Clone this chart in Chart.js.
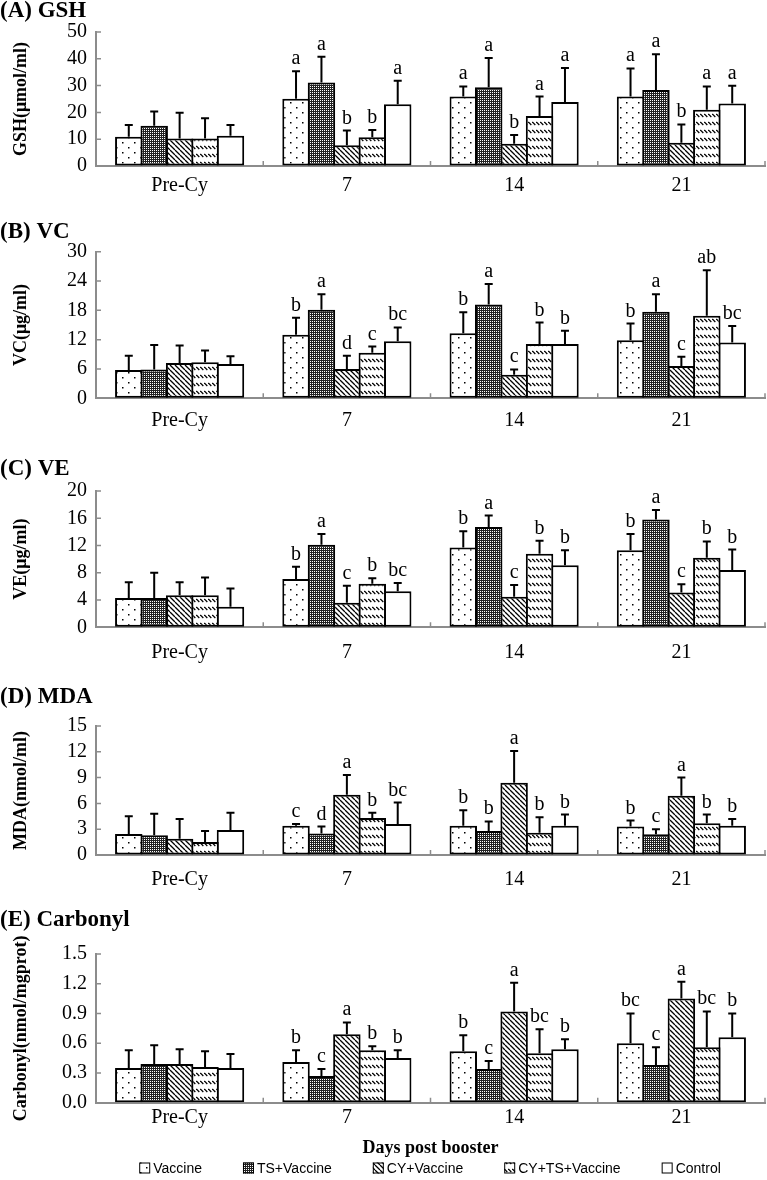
<!DOCTYPE html>
<html>
<head>
<meta charset="utf-8">
<script src="https://cdn.jsdelivr.net/npm/chart.js@4.4.1/dist/chart.umd.min.js"></script>
<style>
  html, body { margin: 0; padding: 0; background: #fff; }
  #page { position: relative; width: 767px; height: 1180px; overflow: hidden; }
  canvas { position: absolute; left: 0; }
</style>
</head>
<body>
<div id="page">
  <canvas id="gsh" width="767" height="205" style="top:0px"></canvas>
  <canvas id="vc" width="767" height="232" style="top:205px"></canvas>
  <canvas id="ve" width="767" height="228" style="top:437px"></canvas>
  <canvas id="mda" width="767" height="230" style="top:665px"></canvas>
  <canvas id="carbonyl" width="767" height="285" style="top:895px"></canvas>
</div>
<script>
const categories = ['Pre-Cy', '7', '14', '21'];
const groups = ['Vaccine', 'TS+Vaccine', 'CY+Vaccine', 'CY+TS+Vaccine', 'Control'];

// rows = groups, columns = categories
const gshTicks = [0, 10, 20, 30, 40, 50];
const gshMean = [
    [10.9, 25.1, 25.9, 25.9],
    [15.0, 31.2, 29.4, 28.4],
    [10.3, 7.7, 8.3, 8.7],
    [10.3, 10.7, 18.7, 21.0],
    [11.3, 23.0, 23.9, 23.3]
];
const gshSd = [
    [4.4, 10.3, 3.8, 10.5],
    [5.3, 9.6, 10.9, 13.3],
    [9.6, 5.5, 3.3, 6.8],
    [7.5, 2.7, 7.2, 8.7],
    [4.0, 8.8, 12.7, 6.6]
];
const gshLetters = [
    ['', 'a', 'a', 'a'],
    ['', 'a', 'a', 'a'],
    ['', 'b', 'b', 'b'],
    ['', 'b', 'a', 'a'],
    ['', 'a', 'a', 'a']
];

const vcTicks = [0, 6, 12, 18, 24, 30];
const vcMean = [
    [5.8, 13.0, 13.3, 11.9],
    [5.9, 18.1, 19.2, 17.7],
    [7.2, 6.0, 4.8, 6.6],
    [7.4, 9.3, 11.1, 16.9],
    [7.0, 11.7, 11.1, 11.4]
];
const vcSd = [
    [2.9, 3.5, 4.3, 3.4],
    [5.0, 3.2, 4.2, 3.6],
    [3.6, 2.7, 1.1, 1.9],
    [2.4, 1.3, 4.4, 9.3],
    [1.6, 2.8, 2.7, 3.4]
];
const vcLetters = [
    ['', 'b', 'b', 'b'],
    ['', 'a', 'a', 'a'],
    ['', 'd', 'c', 'c'],
    ['', 'c', 'b', 'ab'],
    ['', 'bc', 'b', 'bc']
];

const veTicks = [0, 4, 8, 12, 16, 20];
const veMean = [
    [4.3, 7.1, 11.7, 11.3],
    [4.3, 12.1, 14.7, 15.8],
    [4.7, 3.6, 4.5, 5.1],
    [4.7, 6.4, 10.8, 10.2],
    [3.0, 5.3, 9.1, 8.4]
];
const veSd = [
    [2.3, 1.8, 2.4, 2.4],
    [3.7, 1.6, 1.7, 1.4],
    [1.9, 2.5, 1.7, 1.2],
    [2.6, 0.8, 1.9, 2.4],
    [2.7, 1.2, 2.2, 3.0]
];
const veLetters = [
    ['', 'b', 'b', 'b'],
    ['', 'a', 'a', 'a'],
    ['', 'c', 'c', 'c'],
    ['', 'b', 'b', 'b'],
    ['', 'bc', 'b', 'b']
];

const mdaTicks = [0, 3, 6, 9, 12, 15];
const mdaMean = [
    [2.45, 3.4, 3.4, 3.3],
    [2.3, 2.5, 2.8, 2.4],
    [1.9, 7.0, 8.4, 6.9],
    [1.5, 4.3, 2.6, 3.7],
    [2.9, 3.6, 3.4, 3.4]
];
const mdaSd = [
    [2.05, 0.2, 1.8, 0.7],
    [2.5, 0.8, 1.1, 0.6],
    [2.3, 2.3, 3.7, 2.1],
    [1.3, 0.6, 1.8, 1.0],
    [2.0, 2.5, 1.3, 0.8]
];
const mdaLetters = [
    ['', 'c', 'b', 'b'],
    ['', 'd', 'b', 'c'],
    ['', 'a', 'a', 'a'],
    ['', 'b', 'b', 'b'],
    ['', 'bc', 'b', 'b']
];

const carbTicks = [0, 0.3, 0.6, 0.9, 1.2, 1.5];
const carbMean = [
    [0.35, 0.41, 0.52, 0.60],
    [0.39, 0.27, 0.34, 0.38],
    [0.39, 0.69, 0.92, 1.05],
    [0.36, 0.53, 0.50, 0.56],
    [0.35, 0.45, 0.54, 0.66]
];
const carbSd = [
    [0.18, 0.12, 0.16, 0.30],
    [0.19, 0.07, 0.08, 0.18],
    [0.15, 0.12, 0.29, 0.17],
    [0.16, 0.04, 0.24, 0.36],
    [0.14, 0.08, 0.10, 0.24]
];
const carbLetters = [
    ['', 'b', 'b', 'bc'],
    ['', 'c', 'c', 'c'],
    ['', 'a', 'a', 'a'],
    ['', 'b', 'bc', 'bc'],
    ['', 'b', 'b', 'b']
];

const SERIF = "'Liberation Serif', 'Times New Roman', serif";
const AXIS_GREY = '#8c8c8c';

// hatch fills for the five groups
function makeFill(kind) {
    const c = document.createElement('canvas');
    const g = c.getContext('2d');
    if (kind === 'dots') {
        c.width = 12; c.height = 10;
        g.fillStyle = '#fff'; g.fillRect(0, 0, 12, 10);
        g.fillStyle = '#000';
        g.fillRect(2, 2, 1.5, 1.5);
        g.fillRect(8, 7, 1.5, 1.5);
    } else if (kind === 'checker') {
        c.width = 2; c.height = 2;
        g.fillStyle = '#222'; g.fillRect(0, 0, 2, 2);
        g.fillStyle = '#fff'; g.fillRect(0, 0, 1, 1);
    } else if (kind === 'diag') {
        c.width = 5; c.height = 5;
        g.fillStyle = '#fff'; g.fillRect(0, 0, 5, 5);
        g.strokeStyle = '#000'; g.lineWidth = 1.3;
        g.beginPath();
        [-5, 0, 5].forEach(o => { g.moveTo(o, 0); g.lineTo(o + 5, 5); });
        g.stroke();
    } else if (kind === 'dash') {
        c.width = 4; c.height = 8;
        g.fillStyle = '#fff'; g.fillRect(0, 0, 4, 8);
        g.strokeStyle = '#000'; g.lineWidth = 1.2;
        g.beginPath(); g.moveTo(0.3, 2); g.lineTo(3.3, 5); g.stroke();
    } else {
        return '#fff';
    }
    return g.createPattern(c, 'repeat');
}
const fills = ['dots', 'checker', 'diag', 'dash', 'plain'].map(makeFill);

const errorBars = {
    id: 'errorBars',
    afterDatasetsDraw(chart) {
        const ctx = chart.ctx;
        const y = chart.scales.y;
        chart.data.datasets.forEach((ds, i) => {
            chart.getDatasetMeta(i).data.forEach((bar, j) => {
                const yTop = y.getPixelForValue(ds.data[j] + ds.sd[j]);
                ctx.save();
                ctx.strokeStyle = '#000';
                ctx.lineWidth = 2;
                ctx.beginPath();
                ctx.moveTo(bar.x, bar.y);
                ctx.lineTo(bar.x, yTop);
                ctx.moveTo(bar.x - 4, yTop);
                ctx.lineTo(bar.x + 4, yTop);
                ctx.stroke();
                if (ds.letters[j]) {
                    ctx.fillStyle = '#000';
                    ctx.font = '20px ' + SERIF;
                    ctx.textAlign = 'center';
                    ctx.textBaseline = 'alphabetic';
                    ctx.fillText(ds.letters[j], bar.x, yTop - 7);
                }
                ctx.restore();
            });
        });
    }
};

// small tick marks pointing into the plot
const innerTicks = {
    id: 'innerTicks',
    afterDraw(chart) {
        const {ctx, chartArea: a, scales: {x, y}} = chart;
        ctx.save();
        ctx.strokeStyle = AXIS_GREY;
        ctx.lineWidth = 1.5;
        ctx.beginPath();
        y.ticks.forEach(t => {
            const py = y.getPixelForValue(t.value);
            ctx.moveTo(a.left, py);
            ctx.lineTo(a.left + 5, py);
        });
        for (let i = 1; i <= categories.length; i++) {
            const px = x.getPixelForValue(i - 0.5);
            ctx.moveTo(px, a.bottom);
            ctx.lineTo(px, a.bottom - 5);
        }
        ctx.stroke();
        ctx.restore();
    }
};

const panelTitle = {
    id: 'panelTitle',
    afterDraw(chart, args, o) {
        const ctx = chart.ctx;
        ctx.save();
        ctx.fillStyle = '#000';
        ctx.font = 'bold 23px ' + SERIF;
        ctx.textAlign = 'left';
        ctx.textBaseline = 'alphabetic';
        ctx.fillText(o.text, 0, o.y);
        ctx.restore();
    }
};

const groupLegend = {
    id: 'groupLegend',
    afterDraw(chart, args, o) {
        if (!o.y) return;
        const ctx = chart.ctx;
        ctx.save();
        ctx.font = "14px 'Liberation Sans', Arial, sans-serif";
        const box = 11, textGap = 3, gap = 41;
        const items = chart.data.datasets.map(ds => ({ds, w: box + textGap + ctx.measureText(ds.label).width}));
        const total = items.reduce((s, it) => s + it.w, 0) + gap * (items.length - 1);
        let x = o.cx - total / 2;
        items.forEach(it => {
            ctx.fillStyle = it.ds.backgroundColor;
            ctx.fillRect(x, o.y - box / 2, box, box);
            ctx.strokeStyle = '#000';
            ctx.lineWidth = 1;
            ctx.strokeRect(x + 0.5, o.y - box / 2 + 0.5, box - 1, box - 1);
            ctx.fillStyle = '#000';
            ctx.textAlign = 'left';
            ctx.textBaseline = 'middle';
            ctx.fillText(it.ds.label, x + box + textGap, o.y + 1);
            x += it.w + gap;
        });
        ctx.restore();
    }
};

const panels = [
    {id: 'gsh', title: '(A) GSH', titleY: 17, yLabel: 'GSH(μmol/ml)', ticks: gshTicks, mean: gshMean, sd: gshSd, letters: gshLetters,
        padTop: 32, xHeight: 39, padBottom: 0, labelPad: 8, digits: 0},
    {id: 'vc', title: '(B) VC', titleY: 33, yLabel: 'VC(μg/ml)', ticks: vcTicks, mean: vcMean, sd: vcSd, letters: vcLetters,
        padTop: 46.7, xHeight: 38.7, padBottom: 0, labelPad: 10, digits: 0},
    {id: 've', title: '(C) VE', titleY: 38, yLabel: 'VE(μg/ml)', ticks: veTicks, mean: veMean, sd: veSd, letters: veLetters,
        padTop: 54, xHeight: 37.7, padBottom: 0, labelPad: 13, digits: 0},
    {id: 'mda', title: '(D) MDA', titleY: 38, yLabel: 'MDA(nmol/ml)', ticks: mdaTicks, mean: mdaMean, sd: mdaSd, letters: mdaLetters,
        padTop: 61, xHeight: 40, padBottom: 0, labelPad: 13, digits: 0},
    {id: 'carbonyl', title: '(E) Carbonyl', titleY: 31, yLabel: 'Carbonyl(nmol/mgprot)', ticks: carbTicks, mean: carbMean, sd: carbSd, letters: carbLetters,
        padTop: 59, xHeight: 56.1, padBottom: 21.2, labelPad: 3, digits: 1, xTitle: 'Days post booster', legendY: 273}
];

function buildPanel(p) {
    const yMax = p.ticks[p.ticks.length - 1];
    new Chart(document.getElementById(p.id), {
        type: 'bar',
        data: {
            labels: categories,
            datasets: groups.map((g, i) => ({
                label: g,
                data: p.mean[i],
                sd: p.sd[i],
                letters: p.letters[i],
                backgroundColor: fills[i],
                borderColor: '#000',
                borderWidth: 2,
                borderSkipped: false,
                categoryPercentage: 0.76,
                barPercentage: 1.08
            }))
        },
        options: {
            responsive: false,
            animation: false,
            events: [],
            layout: {padding: {top: p.padTop, right: 2, bottom: p.padBottom, left: 0}},
            plugins: {
                legend: {display: false},
                tooltip: {enabled: false},
                panelTitle: {text: p.title, y: p.titleY},
                groupLegend: {y: p.legendY || 0, cx: 430}
            },
            scales: {
                x: {
                    grid: {drawOnChartArea: false, drawTicks: false},
                    border: {color: AXIS_GREY, width: 2},
                    ticks: {color: '#000', font: {family: SERIF, size: 20}, padding: p.labelPad, autoSkip: false, maxRotation: 0},
                    title: {
                        display: !!p.xTitle,
                        text: p.xTitle || '',
                        color: '#000',
                        font: {family: SERIF, size: 18, weight: 'bold'},
                        padding: {top: 0, bottom: 0}
                    },
                    afterFit: s => { s.height = p.xHeight; }
                },
                y: {
                    min: 0,
                    max: yMax,
                    afterBuildTicks: s => { s.ticks = p.ticks.map(v => ({value: v})); },
                    grid: {drawOnChartArea: false, drawTicks: false},
                    border: {color: AXIS_GREY, width: 2},
                    ticks: {
                        color: '#000',
                        font: {family: SERIF, size: 20},
                        padding: 9,
                        autoSkip: false,
                        callback: v => Number(v).toFixed(p.digits)
                    },
                    title: {
                        display: true,
                        text: p.yLabel,
                        color: '#000',
                        font: {family: SERIF, size: 18, weight: 'bold'},
                        padding: {top: 11, bottom: 0}
                    },
                    afterFit: s => { s.width = 96; }
                }
            }
        },
        plugins: [errorBars, innerTicks, panelTitle, groupLegend]
    });
}

panels.forEach(buildPanel);
</script>
</body>
</html>
